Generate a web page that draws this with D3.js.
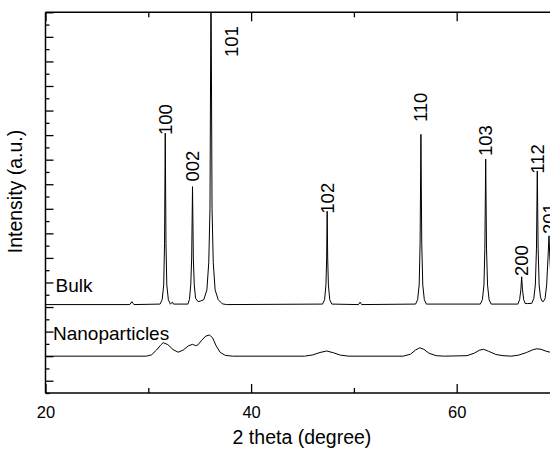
<!DOCTYPE html>
<html>
<head>
<meta charset="utf-8">
<script src="https://cdn.jsdelivr.net/npm/d3@7"></script>
<style>
  body { margin: 0; background: #fff; }
  text { font-family: "Liberation Sans", Arial, sans-serif; fill: #000; }
</style>
</head>
<body>
<div id="chart_xrd"></div>
<script>
// --- Data (2 theta in degree, intensity in a.u.) ---
var bulkTheta = [20.0, 28.2, 28.4, 28.6,
    31.15, 31.35, 31.5, 31.58, 31.65, 31.72, 31.8, 31.95, 32.15, 32.35, 32.45,
    33.85, 34.0, 34.13, 34.22, 34.3, 34.38, 34.47, 34.6, 34.85, 35.05,
    35.4, 35.7, 35.88, 36.0, 36.1, 36.2, 36.32, 36.5, 36.8, 37.2, 37.6,
    46.95, 47.15, 47.28, 47.35, 47.4, 47.45, 47.52, 47.65, 47.85,
    50.45, 50.6, 50.75,
    56.0, 56.2, 56.35, 56.44, 56.52, 56.6, 56.7, 56.85, 57.05,
    62.3, 62.5, 62.65, 62.74, 62.82, 62.9, 63.0, 63.15, 63.35,
    65.95, 66.12, 66.24, 66.32, 66.4, 66.52, 66.65, 66.9,
    67.3, 67.5, 67.65, 67.76, 67.84, 67.92, 68.02, 68.15, 68.3, 68.42,
    68.6, 68.75, 68.88, 68.98, 69.06, 69.2, 69.5];
var bulkIntensity = [3.1, 3.1, 3.22, 3.1,
    3.12, 3.3, 3.9, 5.6, 10.08, 5.6, 3.9, 3.3, 3.12, 3.2, 3.12,
    3.12, 3.3, 3.9, 5.0, 7.9, 5.0, 3.9, 3.35, 3.22, 3.24,
    3.3, 3.7, 4.8, 7.0, 16.5, 7.0, 4.8, 3.7, 3.3, 3.13, 3.1,
    3.12, 3.3, 3.9, 5.0, 6.9, 5.0, 3.9, 3.3, 3.12,
    3.1, 3.2, 3.1,
    3.12, 3.3, 3.9, 5.6, 10.03, 5.6, 3.9, 3.3, 3.12,
    3.12, 3.3, 3.9, 5.4, 9.02, 5.4, 3.9, 3.3, 3.12,
    3.12, 3.3, 3.7, 4.23, 3.7, 3.3, 3.15, 3.14,
    3.15, 3.35, 3.9, 5.4, 8.54, 5.4, 3.9, 3.4, 3.24, 3.22,
    3.35, 3.9, 5.0, 5.9, 5.0, 3.9, 3.3];

var nanoTheta = [20.0, 29.8, 30.3, 30.8, 31.2, 31.45, 31.9, 32.4, 32.9, 33.4, 33.9, 34.3, 34.6, 34.8,
    35.2, 35.6, 35.95, 36.25, 36.6, 37.0, 37.5, 38.2,
    45.2, 46.0, 46.7, 47.35, 48.0, 48.7, 49.5,
    54.8, 55.5, 56.0, 56.4, 56.8, 57.3, 58.0, 58.8,
    61.0, 61.7, 62.2, 62.6, 63.1, 63.8, 64.5, 65.3,
    66.0, 66.8, 67.4, 67.8, 68.2, 68.7, 69.5];
var nanoIntensity = [1.0, 1.0, 1.05, 1.25, 1.45, 1.55, 1.47, 1.27, 1.16, 1.25, 1.42, 1.48, 1.43, 1.45,
    1.65, 1.82, 1.86, 1.75, 1.42, 1.15, 1.03, 1.0,
    1.0, 1.05, 1.15, 1.21, 1.14, 1.04, 1.0,
    1.0, 1.08, 1.25, 1.34, 1.28, 1.12, 1.02, 1.0,
    1.02, 1.12, 1.24, 1.28, 1.2, 1.07, 1.02, 1.0,
    1.04, 1.15, 1.26, 1.3, 1.28, 1.2, 1.12];

// Miller indices of the bulk reflections and where their labels sit
var peakLabels = ["100", "002", "101", "102", "110", "103", "200", "112", "201"];
var labelTheta = [31.65, 34.3, 38.09, 47.4, 56.52, 62.82, 66.32, 67.84, 68.98];
var labelIntensity = [10.0, 8.11, 13.18, 6.8, 10.53, 9.15, 4.26, 8.43, 5.97];

var xTicksMajor = [20, 40, 60];
var xTicksMinor = [30, 50];
var yTicksMajor = d3.range(0, 16);          // unlabeled
var yTicksMinor = d3.range(-0.5, 15, 1);

var seriesLabels = ["Bulk", "Nanoparticles"];

function drawXrdChart() {
    var w = 550, h = 449;
    var left = 45.5, right = 559.5, top = 12.3, bottom = 393;

    var svg = d3.select("#chart_xrd")
        .append("svg")
        .attr("width", w)
        .attr("height", h);

    var xScale = d3.scaleLinear().domain([20, 70]).range([left, right]);
    var yScale = d3.scaleLinear().domain([-0.5, 15]).range([bottom, top]);

    svg.append("defs").append("clipPath")
        .attr("id", "plotClip")
        .append("rect")
        .attr("x", left).attr("y", top)
        .attr("width", right - left).attr("height", bottom - top);

    // --- Curves ---
    var line = d3.line()
        .x(d => xScale(d[0]))
        .y(d => yScale(d[1]));

    var bulk = d3.zip(bulkTheta, bulkIntensity);
    var nano = d3.zip(nanoTheta, nanoIntensity);

    var curves = svg.append("g").attr("clip-path", "url(#plotClip)");
    [bulk, nano].forEach(function (s) {
        curves.append("path")
            .datum(s)
            .attr("d", line)
            .attr("fill", "none")
            .attr("stroke", "#000")
            .attr("stroke-width", 1)
            .attr("stroke-linejoin", "round");
    });

    // --- Axes (ticks pointing inward) ---
    var axisColor = "#000";
    var axisG = svg.append("g")
        .attr("stroke", axisColor)
        .attr("stroke-width", 1.5)
        .attr("fill", "none");

    axisG.append("line").attr("x1", left).attr("x2", left).attr("y1", top).attr("y2", bottom);
    axisG.append("line").attr("x1", left).attr("x2", w).attr("y1", bottom).attr("y2", bottom);
    axisG.append("line").attr("x1", left).attr("x2", w).attr("y1", top).attr("y2", top);

    var bottomAxis = svg.append("g")
        .attr("transform", `translate(0,${bottom})`)
        .call(d3.axisBottom(xScale).tickValues(xTicksMajor).tickSizeInner(-9).tickSizeOuter(0).tickPadding(16).tickFormat(d3.format("d")));
    svg.append("g")
        .attr("transform", `translate(0,${bottom})`)
        .call(d3.axisBottom(xScale).tickValues(xTicksMinor).tickSizeInner(-5).tickSizeOuter(0).tickFormat(""));
    svg.append("g")
        .attr("transform", `translate(0,${top})`)
        .call(d3.axisTop(xScale).tickValues(xTicksMajor).tickSizeInner(-9).tickSizeOuter(0).tickFormat(""));
    svg.append("g")
        .attr("transform", `translate(0,${top})`)
        .call(d3.axisTop(xScale).tickValues(xTicksMinor).tickSizeInner(-5).tickSizeOuter(0).tickFormat(""));
    svg.append("g")
        .attr("transform", `translate(${left},0)`)
        .call(d3.axisLeft(yScale).tickValues(yTicksMajor).tickSizeInner(-8).tickSizeOuter(0).tickFormat(""));
    svg.append("g")
        .attr("transform", `translate(${left},0)`)
        .call(d3.axisLeft(yScale).tickValues(yTicksMinor).tickSizeInner(-4).tickSizeOuter(0).tickFormat(""));

    svg.selectAll(".domain").remove();
    svg.selectAll(".tick line").attr("stroke", axisColor).attr("stroke-width", 1.3);

    bottomAxis.selectAll(".tick text")
        .attr("dy", null)
        .attr("y", 24.7)
        .style("font-size", "16.5px")
        .style("font-family", "'Liberation Sans', Arial, sans-serif")
        .attr("fill", "#000");

    // --- Axis titles ---
    svg.append("text")
        .attr("transform", "translate(22,191.5) rotate(-90)")
        .style("text-anchor", "middle")
        .style("font-size", "19.5px")
        .text("Intensity (a.u.)");

    svg.append("text")
        .attr("x", 302)
        .attr("y", 444)
        .style("text-anchor", "middle")
        .style("font-size", "19.5px")
        .text("2 theta (degree)");

    // --- Peak labels ---
    svg.append("g")
        .selectAll("text")
        .data(peakLabels)
        .enter().append("text")
        .attr("transform", (d, i) => `translate(${xScale(labelTheta[i]) + 6.5},${yScale(labelIntensity[i])}) rotate(-90)`)
        .style("font-size", "18.5px")
        .text(d => d);

    // --- Series labels ---
    svg.append("text")
        .attr("x", xScale(20.97))
        .attr("y", yScale(3.61))
        .style("font-size", "19px")
        .text(seriesLabels[0]);

    svg.append("text")
        .attr("x", xScale(20.73))
        .attr("y", yScale(1.66))
        .style("font-size", "19px")
        .text(seriesLabels[1]);
}

drawXrdChart();
</script>
</body>
</html>
